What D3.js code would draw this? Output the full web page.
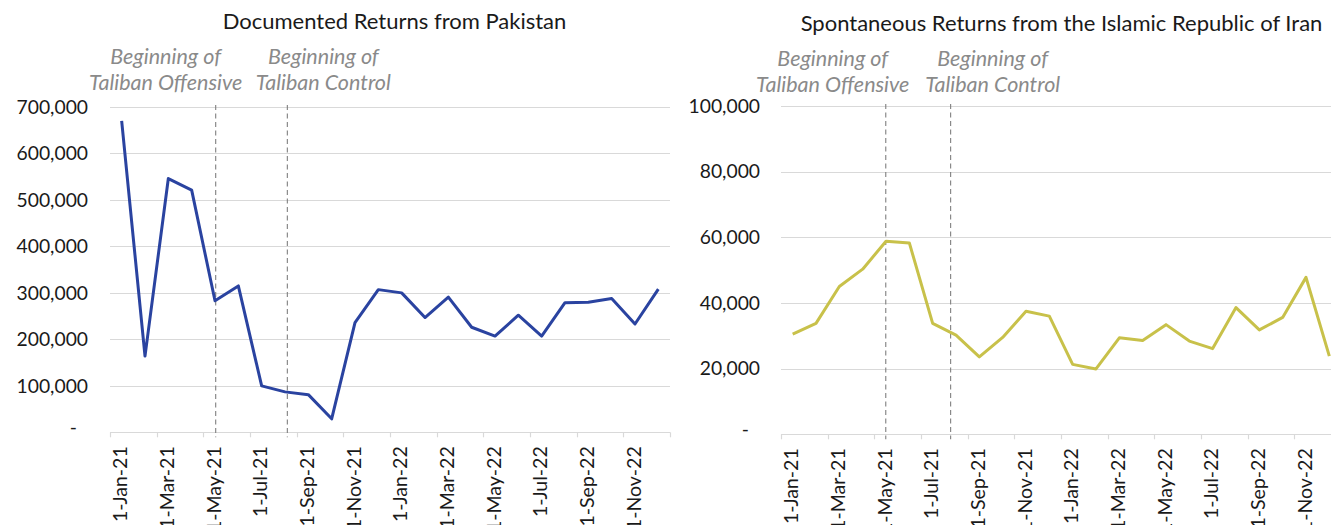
<!DOCTYPE html>
<html>
<head>
<meta charset="utf-8">
<script src="https://cdn.jsdelivr.net/npm/d3@7"></script>
<style>
  html, body { margin: 0; padding: 0; background: #fff; }
  svg { display: block; }
  text { font-family: Lato, "Noto Sans", sans-serif; }
</style>
</head>
<body>
<svg id="chart" width="1331" height="525"></svg>
<script>
// ---------------- DATA ----------------
const months = ["Jan-21","Feb-21","Mar-21","Apr-21","May-21","Jun-21","Jul-21","Aug-21","Sep-21","Oct-21","Nov-21","Dec-21",
                "Jan-22","Feb-22","Mar-22","Apr-22","May-22","Jun-22","Jul-22","Aug-22","Sep-22","Oct-22","Nov-22","Dec-22"];
const pakistanReturns = [670000,164000,546000,521000,283000,315000,100000,87000,81000,29000,236000,307000,
                         300000,247000,291000,226000,207000,252000,207000,279000,280000,288000,233000,308000];
const iranReturns = [30500,33800,45000,50300,58800,58300,33800,30200,23600,29500,37500,36000,
                     21300,19900,29400,28600,33400,28400,26100,38600,31800,35600,47800,23800];
const pakistanTicks = [0,100000,200000,300000,400000,500000,600000,700000];
const iranTicks = [0,20000,40000,60000,80000,100000];
const titles = ["Documented Returns from Pakistan", "Spontaneous Returns from the Islamic Republic of Iran"];
const eventLabels = [["Beginning of","Taliban Offensive"],["Beginning of","Taliban Control"]];
// event markers, in month-index units (position along category axis)
const pakistanEvents = [4.53, 7.6];
const iranEvents = [4.49, 7.27];

// ---------------- DRAW ----------------
const svg = d3.select("#chart");
const fmt = d3.format(",");

function panel(cfg) {
  const g = svg.append("g");
  const x = d3.scaleBand().domain(months).range([cfg.x0, cfg.x0 + 560]).paddingInner(0).paddingOuter(0);
  const y = d3.scaleLinear().domain([0, cfg.yMax]).range([cfg.yBottom, cfg.yTop]);
  const bw = x.bandwidth();
  const xEnd = Math.min(cfg.x0 + 560, 1331);

  // gridlines
  g.append("g").selectAll("line").data(cfg.ticks).join("line")
    .attr("x1", cfg.x0).attr("x2", xEnd)
    .attr("y1", d => Math.round(y(d)) + 0.5).attr("y2", d => Math.round(y(d)) + 0.5)
    .attr("stroke", "#d9d9d9").attr("stroke-width", 1.2);

  // y labels
  g.append("g").selectAll("text").data(cfg.ticks).join("text")
    .attr("x", d => d === 0 ? cfg.labelRight - 11 : cfg.labelRight)
    .attr("y", d => y(d))
    .attr("dy", d => d === 0 ? "0.1em" : "0.35em")
    .attr("text-anchor", "end")
    .attr("font-size", 19.3)
    .attr("fill", "#1a1a1a")
    .text(d => d === 0 ? "-" : fmt(d));

  // x tick marks every 2 months at band boundaries
  const tickIdx = d3.range(0, months.length + 1, 2);
  g.append("g").selectAll("line").data(tickIdx).join("line")
    .attr("x1", i => Math.round(cfg.x0 + i * bw) + 0.5)
    .attr("x2", i => Math.round(cfg.x0 + i * bw) + 0.5)
    .attr("y1", cfg.yBottom).attr("y2", cfg.yBottom + 5)
    .attr("stroke", "#d9d9d9").attr("stroke-width", 1.2);

  // x labels
  const labelMonths = months.filter((m, i) => i % 2 === 0);
  g.append("g").selectAll("text").data(labelMonths).join("text")
    .attr("transform", m => `translate(${x(m) + bw / 2 - 1.5},${cfg.yBottom + 14}) rotate(-90)`)
    .attr("text-anchor", "end")
    .attr("dy", "0.36em")
    .attr("font-size", 19.5)
    .attr("font-family", "'Open Sans', 'Noto Sans', sans-serif")
    .attr("fill", "#1a1a1a")
    .text(m => "1-" + m);

  // dashed event lines
  g.append("g").selectAll("line").data(cfg.events).join("line")
    .attr("x1", e => cfg.x0 + e * bw).attr("x2", e => cfg.x0 + e * bw)
    .attr("y1", cfg.yTop - 2).attr("y2", cfg.yBottom + 5)
    .attr("stroke", "#7f7f7f").attr("stroke-width", 1.1)
    .attr("stroke-dasharray", "5,3.5");

  // event annotations
  cfg.events.forEach((e, k) => {
    const cx = cfg.x0 + e * bw + cfg.labelOffsets[k];
    const t = g.append("text")
      .attr("x", cx).attr("y", cfg.annY)
      .attr("text-anchor", "middle")
      .attr("font-size", 21.5).attr("font-style", "italic")
      .attr("fill", "#8a8a8a");
    t.append("tspan").attr("x", cx).attr("dy", 0).text(eventLabels[k][0]);
    t.append("tspan").attr("x", cx).attr("dy", 26).text(eventLabels[k][1]);
  });

  // line
  const line = d3.line().x(d => x(d.m) + bw / 2).y(d => y(d.v));
  g.append("path")
    .datum(months.map((m, i) => ({ m, v: cfg.values[i] })))
    .attr("d", line)
    .attr("fill", "none")
    .attr("stroke", cfg.color)
    .attr("stroke-width", 3)
    .attr("stroke-linejoin", "round");

  // title
  g.append("text")
    .attr("x", cfg.titleX).attr("y", cfg.titleY)
    .attr("text-anchor", "middle")
    .attr("font-size", 22)
    .attr("fill", "#1a1a1a")
    .text(cfg.title);
}

panel({ x0: 110, yTop: 107, yBottom: 432.3, yMax: 700000, ticks: pakistanTicks, values: pakistanReturns,
        color: "#2a43a0", labelRight: 88, events: pakistanEvents, labelOffsets: [-50, 36], annY: 64,
        title: titles[0], titleX: 394.5, titleY: 29 });
panel({ x0: 781, yTop: 106, yBottom: 434.3, yMax: 100000, ticks: iranTicks, values: iranReturns,
        color: "#c8c14a", labelRight: 760, events: iranEvents, labelOffsets: [-53, 42], annY: 66,
        title: titles[1], titleX: 1061.5, titleY: 31 });
</script>
</body>
</html>
